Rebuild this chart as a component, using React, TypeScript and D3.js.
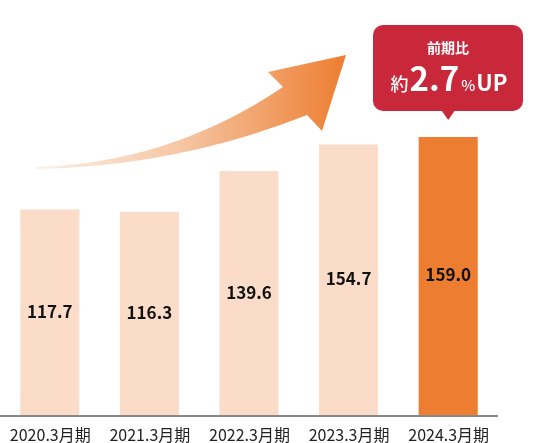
import * as d3 from "d3";

const categories = ["2020.3月期", "2021.3月期", "2022.3月期", "2023.3月期", "2024.3月期"];
const values = [117.7, 116.3, 139.6, 154.7, 159.0];
const highlightIndex = 4;
const calloutTitle = "前期比";
const calloutPrefix = "約";
const calloutValue = "2.7";

const width = 550;
const height = 443;
const baseline = 416;
const font = "'Noto Sans CJK JP', 'Noto Sans', sans-serif";

export default function App() {
  const x = d3
    .scaleBand<string>()
    .domain(categories)
    .range([0, 498])
    .paddingInner(0.407)
    .paddingOuter(0.2035);

  const y = d3.scaleLinear().domain([0, 159]).range([baseline, 137]);

  // decorative growth arrow
  const arrow = d3.path();
  arrow.moveTo(37, 167);
  arrow.quadraticCurveTo(170, 163, 283, 87);
  arrow.lineTo(268, 72);
  arrow.lineTo(346, 55);
  arrow.lineTo(322, 131);
  arrow.lineTo(307, 115);
  arrow.quadraticCurveTo(178, 166, 37, 169);
  arrow.closePath();

  const hx = x(categories[highlightIndex])! + x.bandwidth() / 2;

  return (
    <div style={{ position: "fixed", left: 0, top: 0 }}>
      <svg width={width} height={height} style={{ display: "block" }} fontFamily={font}>
        <defs>
          <linearGradient id="arrowGrad" gradientUnits="userSpaceOnUse" x1={37} y1={0} x2={346} y2={0}>
            <stop offset="0" stopColor="#fdeee4" />
            <stop offset="0.45" stopColor="#f6c8a6" />
            <stop offset="1" stopColor="#ed7d31" />
          </linearGradient>
        </defs>

        <path d={arrow.toString()} fill="url(#arrowGrad)" />

        {values.map((v, i) => {
          const bx = x(categories[i])!;
          const top = y(v);
          return (
            <g key={categories[i]}>
              <rect
                x={bx}
                y={top}
                width={x.bandwidth()}
                height={baseline - top}
                fill={i === highlightIndex ? "#ed7d31" : "#fadcc8"}
              />
              <text
                x={bx + x.bandwidth() / 2}
                y={baseline - (baseline - top) * 0.51}
                textAnchor="middle"
                dominantBaseline="central"
                fontSize={17}
                fontWeight={700}
                fill="#111"
              >
                {v.toFixed(1)}
              </text>
              <text
                x={bx + x.bandwidth() / 2 + 0.5}
                y={441}
                textAnchor="middle"
                fontSize={16}
                fill="#222"
              >
                {categories[i]}
              </text>
            </g>
          );
        })}

        <line x1={0} x2={498} y1={baseline} y2={baseline} stroke="#888" strokeWidth={2} />

        <g>
          <rect x={373} y={25} width={150} height={86} rx={10} fill="#c8283a" />
          <path d={`M${hx - 7},110 L${hx + 7},110 L${hx},120 Z`} fill="#c8283a" />
          <text x={448} y={47} textAnchor="middle" dominantBaseline="central" fontSize={14} fontWeight={700} fill="#fff">
            {calloutTitle}
          </text>
          <text x={449} y={91} textAnchor="middle" fill="#fff" fontWeight={700}>
            <tspan fontSize={18} fontWeight={500}>{calloutPrefix}</tspan>
            <tspan fontSize={33} dx={1}>{calloutValue}</tspan>
            <tspan fontSize={15} fontWeight={500} dx={2}>%</tspan>
            <tspan fontSize={22} dx={1}>UP</tspan>
          </text>
        </g>
      </svg>
    </div>
  );
}
